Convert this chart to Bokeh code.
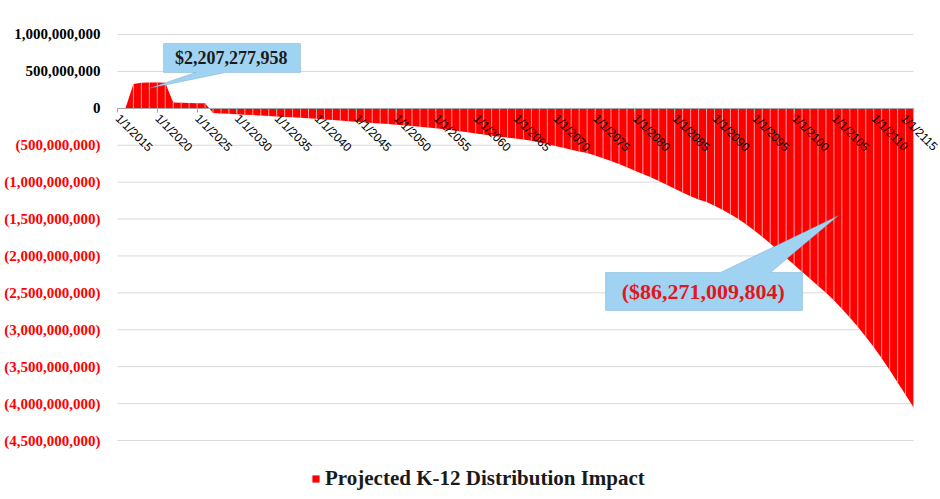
import math
from bokeh.plotting import figure
from bokeh.models import (Range1d, FixedTicker, Label, Legend, LegendItem,
                          PolyAnnotation)
from bokeh.embed import file_html
from bokeh.resources import INLINE

# ---------------- data ----------------
years = list(range(2015, 2116))
impact_millions = [
    0, 0, 330, 345, 350, 350, 348, 80, 76, 73,              # 2015-2024
    70, 68, -65, -70, -75, -80, -86, -92, -98, -104,        # 2025-2034
    -110, -116, -122, -128, -135, -142, -150, -158, -166, -174,  # 2035-2044
    -182, -190, -198, -206, -214, -222, -231, -240, -250, -260,  # 2045-2054
    -271, -283, -296, -310, -325, -340, -355, -370, -385, -397,  # 2055-2064
    -410, -424, -440, -462, -485, -510, -535, -560, -585, -605,  # 2065-2074
    -640, -675, -715, -755, -800, -845, -890, -935, -985, -1035,  # 2075-2084
    -1090, -1140, -1190, -1235, -1270, -1320, -1375, -1435, -1500, -1575,  # 2085-2094
    -1655, -1740, -1830, -1925, -2025, -2120, -2215, -2310, -2405, -2500,  # 2095-2104
    -2600, -2715, -2835, -2960, -3095, -3235, -3385, -3545, -3715, -3880,  # 2105-2114
    -4050,                                                   # 2115
]
impact = [v * 1e6 for v in impact_millions]
zeros = [0] * len(years)

y_ticks = [1e9, 5e8, 0, -5e8, -1e9, -1.5e9, -2e9, -2.5e9, -3e9, -3.5e9, -4e9, -4.5e9]
y_tick_labels = ["1,000,000,000", "500,000,000", "0", "(500,000,000)", "(1,000,000,000)",
                 "(1,500,000,000)", "(2,000,000,000)", "(2,500,000,000)", "(3,000,000,000)",
                 "(3,500,000,000)", "(4,000,000,000)", "(4,500,000,000)"]

x_ticks = [2015, 2020, 2025, 2030, 2035, 2040, 2045, 2050, 2055, 2060, 2065,
           2070, 2075, 2080, 2085, 2090, 2095, 2100, 2105, 2110, 2115]
x_tick_labels = ["1/1/%d" % t for t in x_ticks]

series_name = "Projected K-12 Distribution Impact"
positive_total = "$2,207,277,958"
negative_total = "($86,271,009,804)"

X_FIRST, X_LAST = 2015, 2115

# ---------------- figure ----------------
p = figure(width=940, height=499, output_backend="svg", toolbar_location=None,
           x_range=Range1d(2000.302, 2118.392),
           y_range=Range1d(-5.29926e9, 1.46059e9),
           min_border=0)
p.outline_line_color = None
p.background_fill_color = "white"
p.border_fill_color = "white"
p.xgrid.visible = False
p.ygrid.visible = False
p.yaxis.visible = False

# horizontal gridlines limited to the plot area
p.segment(x0=[X_FIRST] * len(y_ticks), x1=[X_LAST] * len(y_ticks),
          y0=y_ticks, y1=y_ticks, line_color="#D9D9D9", line_width=1)

area = p.varea(x=years, y1=zeros, y2=impact, fill_color="#FF0000")
p.segment(x0=years, y0=zeros, x1=years, y1=impact, line_color="#FF9C9C", line_width=1)

xa = p.xaxis[0]
xa.fixed_location = 0
xa.bounds = (X_FIRST, X_LAST)
xa.ticker = FixedTicker(ticks=x_ticks)
xa.major_label_overrides = {t: l for t, l in zip(x_ticks, x_tick_labels)}
xa.major_label_orientation = -math.pi / 4
xa.axis_line_color = "#A6A6A6"
xa.major_tick_line_color = "#A6A6A6"
xa.major_tick_out = 4
xa.major_tick_in = 0
xa.minor_tick_out = 0
xa.minor_tick_in = 0
xa.major_label_standoff = 4
xa.major_label_text_font = "Liberation Sans"
xa.major_label_text_font_size = "12px"
xa.major_label_text_color = "#000000"

for v, txt in zip(y_ticks, y_tick_labels):
    p.add_layout(Label(x=X_FIRST, y=v, x_offset=-17, text=txt, text_align="right",
                       text_baseline="middle",
                       text_color="#000000" if v >= 0 else "#FF0000",
                       text_font="Liberation Serif", text_font_style="bold",
                       text_font_size="15px"))

# ---------------- callouts ----------------
p.add_layout(PolyAnnotation(
    xs=[2020.78, 2037.99, 2037.99, 2028.57, 2018.89, 2024.80, 2020.78],
    ys=[0.878e9, 0.878e9, 0.485e9, 0.485e9, 0.268e9, 0.485e9, 0.485e9],
    fill_color="#A0D3F1", fill_alpha=1, line_color="#4F8DB0", line_width=1))
p.add_layout(Label(x=2029.3, y=0.675e9, text=positive_total, text_align="center",
                   text_baseline="middle", text_color="#1A1A1A",
                   text_font="Liberation Serif", text_font_style="bold",
                   text_font_size="18px"))

p.add_layout(PolyAnnotation(
    xs=[2076.31, 2090.75, 2105.58, 2097.04, 2101.06, 2101.06, 2076.31],
    ys=[-2.224e9, -2.224e9, -1.452e9, -2.224e9, -2.224e9, -2.739e9, -2.739e9],
    fill_color="#A0D3F1", fill_alpha=1, line_color="#4F8DB0", line_width=1))
p.add_layout(Label(x=2088.6, y=-2.482e9, text=negative_total, text_align="center",
                   text_baseline="middle", text_color="#E3161E",
                   text_font="Liberation Serif", text_font_style="bold",
                   text_font_size="22px"))

# ---------------- legend ----------------
legend = Legend(items=[LegendItem(label=series_name, renderers=[area])],
                location=(311, 8), orientation="horizontal",
                border_line_color=None, background_fill_alpha=0,
                label_text_font="Liberation Serif", label_text_font_style="bold",
                label_text_font_size="21px", label_text_color="#1A1A1A",
                glyph_width=9, glyph_height=9, padding=2, margin=0,
                label_standoff=5)
p.add_layout(legend)

open("out.html", "w").write(file_html(p, INLINE))
